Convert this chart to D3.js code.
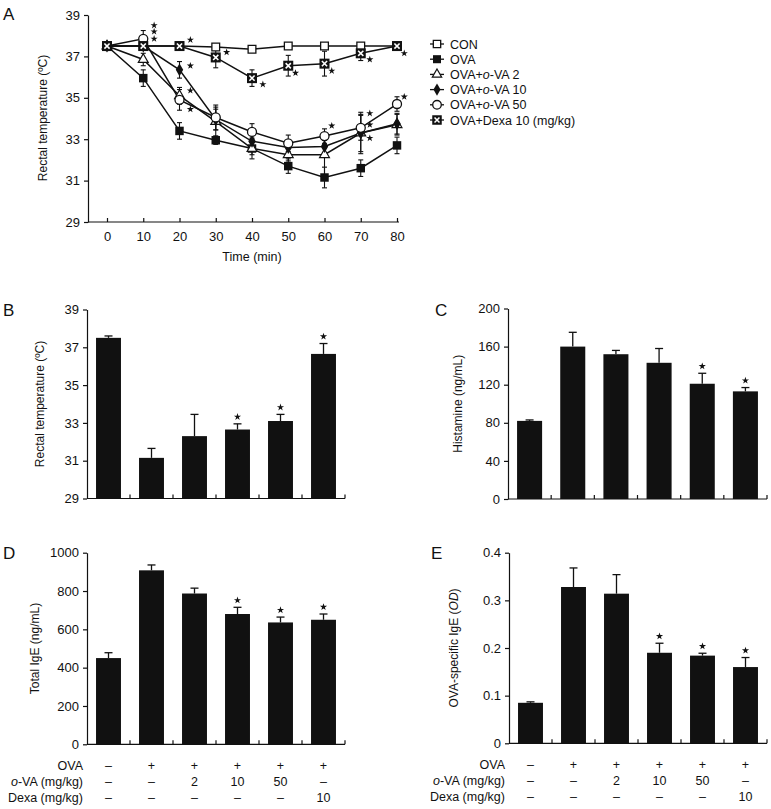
<!DOCTYPE html>
<html>
<head>
<meta charset="utf-8">
<script src="https://cdn.jsdelivr.net/npm/d3@7"></script>
<style>
  body { margin: 0; background: #fff; }
  svg { display: block; font-family: "Liberation Sans", Arial, sans-serif; }
</style>
</head>
<body>
<div id="chart"></div>
<script>
// ---- data ----
var timePoints = [0, 10, 20, 30, 40, 50, 60, 70, 80];

var conMean   = [37.5, 37.5, 37.5, 37.45, 37.35, 37.5, 37.5, 37.5, 37.5];
var conErr    = [0, 0.1, 0.1, 0.1, 0.1, 0.1, 0.1, 0.1, 0.1];
var ovaMean   = [37.5, 35.95, 33.4, 32.95, 32.55, 31.7, 31.15, 31.6, 32.7];
var ovaErr    = [0, 0.4, 0.4, 0.2, 0.3, 0.35, 0.5, 0.4, 0.4];
var va2Mean   = [37.5, 36.85, 35.1, 33.85, 32.55, 32.25, 32.25, 33.3, 33.7];
var va2Err    = [0, 0.3, 0.4, 0.7, 0.5, 0.3, 1.0, 0.9, 0.5];
var va10Mean  = [37.5, 37.5, 36.35, 33.95, 32.9, 32.6, 32.65, 33.3, 33.75];
var va10Err   = [0, 0.1, 0.4, 0.5, 0.3, 0.3, 0.3, 1.0, 0.5];
var va50Mean  = [37.5, 37.85, 34.9, 34.05, 33.35, 32.8, 33.15, 33.55, 34.7];
var va50Err   = [0, 0.4, 0.5, 0.6, 0.4, 0.4, 0.35, 0.6, 0.35];
var dexaMean  = [37.5, 37.5, 37.5, 36.95, 35.95, 36.55, 36.65, 37.15, 37.5];
var dexaErr   = [0, 0.1, 0.1, 0.5, 0.4, 0.5, 0.6, 0.35, 0.1];

// significance stars in panel A: [time, value]
var timeStars = [
  [13, 38.5], [13, 38.2], [13, 37.85],
  [23, 37.8], [23, 36.55], [23, 35.35], [23, 34.45],
  [33, 37.2], [43, 35.65], [52, 36.2],
  [62, 36.3], [62, 33.65],
  [72.5, 36.85], [72.5, 34.25], [72.5, 33.7], [72.5, 33.05],
  [82, 37.15], [82, 35.05]
];

var groups = ["CON", "OVA", "OVA+o-VA 2", "OVA+o-VA 10", "OVA+o-VA 50", "OVA+Dexa 10"];

var tempMean = [37.5, 31.15, 32.3, 32.65, 33.1, 36.65];
var tempErr  = [0.1, 0.5, 1.15, 0.3, 0.35, 0.55];
var tempSig  = [0, 0, 0, 1, 1, 1];

var histMean = [82, 160, 152, 143, 121, 113];
var histErr  = [1, 15, 4, 15, 11, 4];
var histSig  = [0, 0, 0, 0, 1, 1];

var igeMean = [450, 908, 787, 680, 636, 650];
var igeErr  = [28, 28, 28, 35, 28, 30];
var igeSig  = [0, 0, 0, 1, 1, 1];

var ovaIgeMean = [0.085, 0.328, 0.314, 0.19, 0.184, 0.16];
var ovaIgeErr  = [0.002, 0.04, 0.04, 0.02, 0.005, 0.02];
var ovaIgeSig  = [0, 0, 0, 1, 1, 1];

var tableRowLabels = ["OVA", "o-VA (mg/kg)", "Dexa (mg/kg)"];
var ovaRow  = ["\u2013", "+", "+", "+", "+", "+"];
var doseRow = ["\u2013", "\u2013", "2", "10", "50", "\u2013"];
var dexaRow = ["\u2013", "\u2013", "\u2013", "\u2013", "\u2013", "10"];

var ink = "#111";

var svg = d3.select("#chart").append("svg")
    .attr("width", 771)
    .attr("height", 809);

var star = d3.symbol().type(d3.symbolStar).size(16);

function panelLetter(x, y, t) {
  svg.append("text").attr("x", x).attr("y", y)
    .style("font-size", "17px").attr("fill", ink).text(t);
}

function yTitle(x, y, parts) {
  var t = svg.append("text")
    .attr("transform", "translate(" + x + "," + y + ") rotate(-90)")
    .attr("text-anchor", "middle")
    .style("font-size", "12px").attr("fill", ink);
  parts.forEach(function(p) {
    t.append("tspan").style("font-style", p[1] ? "italic" : null).text(p[0]);
  });
}

function styleAxis(g) {
  g.selectAll("path, line").attr("stroke", ink).attr("stroke-width", 1.2);
  g.selectAll("text").attr("fill", ink).style("font-size", "13px")
    .style("font-family", "Liberation Sans, Arial, sans-serif");
}

// ---- panel A ----
var xA = d3.scaleLinear().domain([0, 80]).range([107, 397]);
var yA = d3.scaleLinear().domain([29, 39]).range([222, 15]);

var gAy = svg.append("g").attr("transform", "translate(88,0)")
  .call(d3.axisLeft(yA).tickValues([29, 31, 33, 35, 37, 39]).tickSize(4).tickSizeOuter(0).tickPadding(4));
styleAxis(gAy);

var gAx = svg.append("g").attr("transform", "translate(0,222)")
  .call(d3.axisBottom(xA).tickValues(timePoints).tickSize(-4).tickPadding(10));
gAx.select(".domain").remove();
styleAxis(gAx);
svg.append("line").attr("x1", 88).attr("x2", 399).attr("y1", 222).attr("y2", 222)
  .attr("stroke", ink).attr("stroke-width", 1.2);

svg.append("text").attr("x", xA(40)).attr("y", 261).attr("text-anchor", "middle")
  .style("font-size", "12.5px").attr("fill", ink).text("Time (min)");
yTitle(47, 118, [["Rectal temperature (\u00baC)", false]]);
panelLetter(3, 20, "A");

var series = [
  { name: [["CON", false]], mean: conMean, err: conErr, kind: "openSquare" },
  { name: [["OVA", false]], mean: ovaMean, err: ovaErr, kind: "filledSquare" },
  { name: [["OVA+", false], ["o", true], ["-VA 2", false]], mean: va2Mean, err: va2Err, kind: "openTriangle" },
  { name: [["OVA+", false], ["o", true], ["-VA 10", false]], mean: va10Mean, err: va10Err, kind: "filledDiamond" },
  { name: [["OVA+", false], ["o", true], ["-VA 50", false]], mean: va50Mean, err: va50Err, kind: "openCircle" },
  { name: [["OVA+Dexa 10 (mg/kg)", false]], mean: dexaMean, err: dexaErr, kind: "crossSquare" }
];

function drawMarker(g, kind, scale) {
  var s = scale || 1;
  if (kind === "openSquare") {
    g.append("path").attr("d", d3.symbol().type(d3.symbolSquare).size(60 * s * s)())
      .attr("fill", "#fff").attr("stroke", ink).attr("stroke-width", 1.3);
  } else if (kind === "filledSquare") {
    g.append("path").attr("d", d3.symbol().type(d3.symbolSquare).size(72 * s * s)())
      .attr("fill", ink);
  } else if (kind === "openTriangle") {
    g.append("path").attr("d", d3.symbol().type(d3.symbolTriangle).size(42 * s * s)())
      .attr("fill", "#fff").attr("stroke", ink).attr("stroke-width", 1.2);
  } else if (kind === "filledDiamond") {
    g.append("path").attr("d", d3.symbol().type(d3.symbolDiamond).size(48 * s * s)())
      .attr("fill", ink);
  } else if (kind === "openCircle") {
    g.append("path").attr("d", d3.symbol().type(d3.symbolCircle).size(64 * s * s)())
      .attr("fill", "#fff").attr("stroke", ink).attr("stroke-width", 1.3);
  } else if (kind === "crossSquare") {
    var h = 5 * s, c = 2.6 * s;
    g.append("rect").attr("x", -h).attr("y", -h).attr("width", 2 * h).attr("height", 2 * h)
      .attr("fill", ink);
    g.append("path").attr("d", "M" + (-c) + "," + (-c) + "L" + c + "," + c + "M" + (-c) + "," + c + "L" + c + "," + (-c))
      .attr("stroke", "#fff").attr("stroke-width", 1.6 * s);
  }
}

var line = d3.line().x(function(d) { return xA(d[0]); }).y(function(d) { return yA(d[1]); });

// error bars first
series.forEach(function(s) {
  var eg = svg.append("g");
  timePoints.forEach(function(t, i) {
    if (!s.err[i]) return;
    var x = xA(t), y0 = yA(s.mean[i] - s.err[i]), y1 = yA(s.mean[i] + s.err[i]);
    eg.append("line").attr("x1", x).attr("x2", x).attr("y1", y0).attr("y2", y1)
      .attr("stroke", ink).attr("stroke-width", 1.1);
    [y0, y1].forEach(function(yy) {
      eg.append("line").attr("x1", x - 2.5).attr("x2", x + 2.5).attr("y1", yy).attr("y2", yy)
        .attr("stroke", ink).attr("stroke-width", 1.1);
    });
  });
});

series.forEach(function(s) {
  var pts = timePoints.map(function(t, i) { return [t, s.mean[i]]; });
  svg.append("path").datum(pts).attr("d", line)
    .attr("fill", "none").attr("stroke", ink).attr("stroke-width", 1.5);
});

series.forEach(function(s) {
  timePoints.forEach(function(t, i) {
    var g = svg.append("g").attr("transform", "translate(" + xA(t) + "," + yA(s.mean[i]) + ")");
    drawMarker(g, s.kind, 1);
  });
});

svg.append("g").selectAll("path").data(timeStars).enter().append("path")
  .attr("d", star)
  .attr("transform", function(d) { return "translate(" + xA(d[0]) + "," + yA(d[1]) + ")"; })
  .attr("fill", ink);

// legend
series.forEach(function(s, i) {
  var y = 44 + i * 15.2;
  svg.append("line").attr("x1", 430).attr("x2", 444).attr("y1", y).attr("y2", y)
    .attr("stroke", ink).attr("stroke-width", 1.3);
  drawMarker(svg.append("g").attr("transform", "translate(437," + y + ")"), s.kind, 0.95);
  var t = svg.append("text").attr("x", 450).attr("y", y + 4.5)
    .style("font-size", "12.5px").attr("fill", ink);
  s.name.forEach(function(p) {
    t.append("tspan").style("font-style", p[1] ? "italic" : null).text(p[0]);
  });
});

// ---- bar panels ----
function barPanel(o) {
  var x = d3.scaleBand().domain(groups).range([o.x0, o.x1]).paddingInner(0.42).paddingOuter(0.21);
  var y = d3.scaleLinear().domain(o.domain).range([o.yBottom, o.yTop]);

  var gy = svg.append("g").attr("transform", "translate(" + o.x0 + ",0)")
    .call(d3.axisLeft(y).tickValues(o.ticks).tickFormat(o.fmt).tickSize(4).tickSizeOuter(0).tickPadding(4));
  styleAxis(gy);

  svg.append("line").attr("x1", o.x0).attr("x2", o.x1).attr("y1", o.yBottom).attr("y2", o.yBottom)
    .attr("stroke", ink).attr("stroke-width", 1.2);
  groups.forEach(function(g, i) {
    var bx = o.x0 + (i + 1) * x.step();
    svg.append("line").attr("x1", bx).attr("x2", bx).attr("y1", o.yBottom).attr("y2", o.yBottom - 4)
      .attr("stroke", ink).attr("stroke-width", 1.2);
  });

  var base = o.domain[0];
  groups.forEach(function(g, i) {
    var cx = x(g) + x.bandwidth() / 2;
    var top = y(o.mean[i] + o.err[i]);
    svg.append("line").attr("x1", cx).attr("x2", cx).attr("y1", y(o.mean[i])).attr("y2", top)
      .attr("stroke", ink).attr("stroke-width", 1.3);
    svg.append("line").attr("x1", cx - 4).attr("x2", cx + 4).attr("y1", top).attr("y2", top)
      .attr("stroke", ink).attr("stroke-width", 1.3);
    svg.append("rect").attr("x", x(g)).attr("width", x.bandwidth())
      .attr("y", y(o.mean[i])).attr("height", y(base) - y(o.mean[i]))
      .attr("fill", ink);
    if (o.sig[i]) {
      svg.append("path").attr("d", star)
        .attr("transform", "translate(" + cx + "," + (top - 7) + ")")
        .attr("fill", ink);
    }
  });

  yTitle(o.titleX, (o.yTop + o.yBottom) / 2, o.title);
  panelLetter(o.letterX, o.letterY, o.letter);

  if (o.table) {
    var rows = [ovaRow, doseRow, dexaRow];
    rows.forEach(function(r, k) {
      var yy = o.yBottom + 26 + k * 15.8;
      var lab = svg.append("text").attr("x", o.x0 - 4).attr("y", yy).attr("text-anchor", "end")
        .style("font-size", "12.5px").attr("fill", ink);
      if (k === 1) {
        lab.append("tspan").style("font-style", "italic").text("o");
        lab.append("tspan").text("-VA (mg/kg)");
      } else {
        lab.text(tableRowLabels[k]);
      }
      r.forEach(function(v, i) {
        svg.append("text").attr("x", x(groups[i]) + x.bandwidth() / 2).attr("y", yy)
          .attr("text-anchor", "middle").style("font-size", "12.5px").attr("fill", ink).text(v);
      });
    });
  }
}

barPanel({ x0: 87, x1: 345, yTop: 309.5, yBottom: 498.5, domain: [29, 39], ticks: [29, 31, 33, 35, 37, 39],
  fmt: d3.format("d"), mean: tempMean, err: tempErr, sig: tempSig,
  title: [["Rectal temperature (\u00baC)", false]], titleX: 44, letter: "B", letterX: 3, letterY: 316 });

barPanel({ x0: 508, x1: 767, yTop: 308.5, yBottom: 499, domain: [0, 200], ticks: [0, 40, 80, 120, 160, 200],
  fmt: d3.format("d"), mean: histMean, err: histErr, sig: histSig,
  title: [["Histamine (ng/mL)", false]], titleX: 462, letter: "C", letterX: 435, letterY: 316 });

barPanel({ x0: 87, x1: 345, yTop: 552.7, yBottom: 744.3, domain: [0, 1000], ticks: [0, 200, 400, 600, 800, 1000],
  fmt: d3.format("d"), mean: igeMean, err: igeErr, sig: igeSig,
  title: [["Total IgE (ng/mL)", false]], titleX: 39, letter: "D", letterX: 3, letterY: 559, table: true });

barPanel({ x0: 509, x1: 767, yTop: 552.7, yBottom: 743.3, domain: [0, 0.4], ticks: [0, 0.1, 0.2, 0.3, 0.4],
  fmt: function(d) { return d === 0 ? "0" : d3.format(".1f")(d); }, mean: ovaIgeMean, err: ovaIgeErr, sig: ovaIgeSig,
  title: [["OVA-specific IgE (", false], ["OD", true], [")", false]], titleX: 458, letter: "E", letterX: 431, letterY: 559, table: true });
</script>
</body>
</html>
